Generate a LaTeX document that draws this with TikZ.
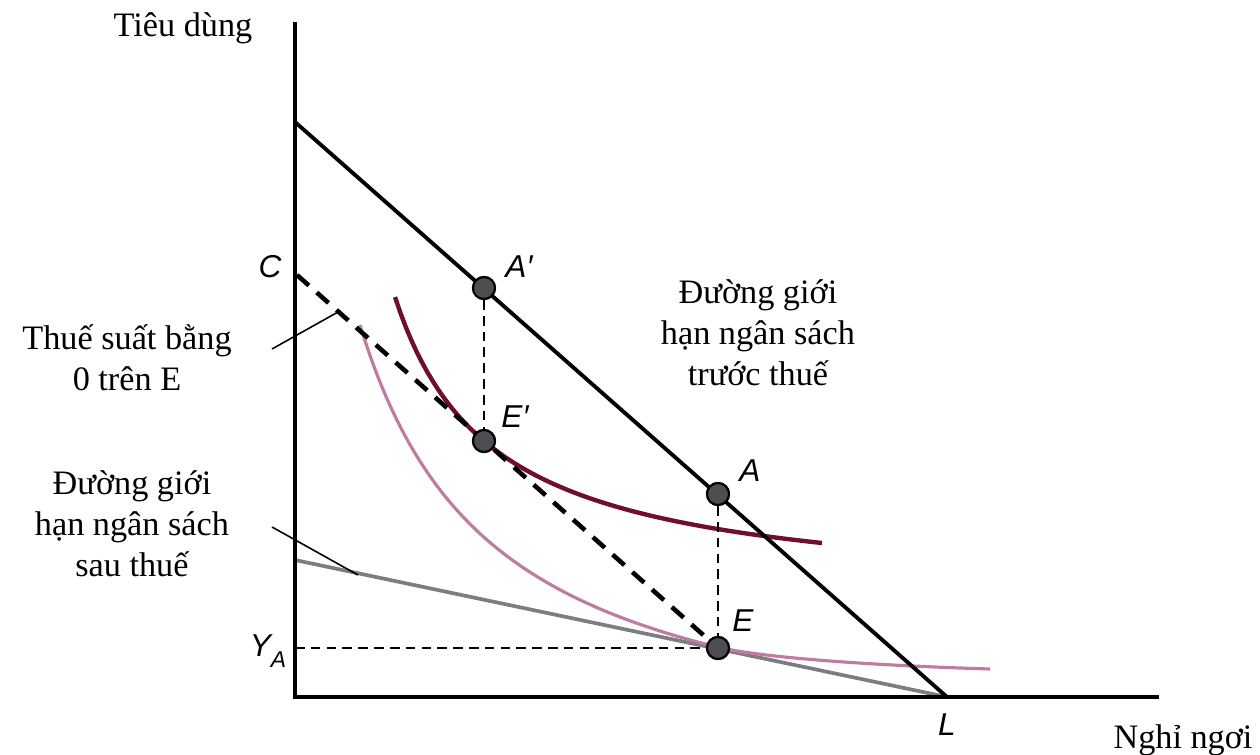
\documentclass[tikz,border=0pt]{standalone}
\usepackage{fontspec}
\setmainfont{Liberation Serif}
\newfontfamily\labfont{Liberation Sans}
\definecolor{maroonc}{RGB}{112,14,50}
\definecolor{pinkc}{RGB}{192,124,160}
\definecolor{grayc}{RGB}{125,125,128}
\definecolor{dotc}{RGB}{78,78,82}
\tikzset{
  txt/.style={font=\fontsize{19.5}{23.2}\selectfont, align=center, inner sep=0pt},
  lab/.style={font=\labfont\itshape\fontsize{18}{20}\selectfont, inner sep=0pt},
  axis/.style={line width=2pt, black},
  budget/.style={line width=2.2pt, black},
  cdash/.style={line width=2.6pt, black, dash pattern=on 9pt off 6pt},
  thindash/.style={line width=1.1pt, black, dash pattern=on 5.5pt off 3.5pt},
  aftertax/.style={line width=2.1pt, grayc},
  icurveA/.style={line width=2.5pt, maroonc},
  icurveB/.style={line width=1.8pt, pinkc},
  leader/.style={line width=0.9pt, black},
  dotpt/.style={circle, minimum size=0.44cm, inner sep=0pt, fill=dotc, draw=black, line width=1.2pt}
}
\begin{document}
\begin{tikzpicture}[x=0.02cm, y=-0.02cm]
\useasboundingbox (0,0) rectangle (1260,754);
% key points
\coordinate (O) at (295,697);
\coordinate (Ytop) at (295,22);
\coordinate (Xend) at (1159,697);
\coordinate (B0) at (295,122);
\coordinate (L) at (947,697);
\coordinate (C0) at (297,275);
\coordinate (G0) at (295,560);
\coordinate (YA) at (295,648);
\coordinate (T1) at (272,349);
\coordinate (T2) at (338,312);
\coordinate (S1) at (272,527);
\coordinate (S2) at (358,575);
\coordinate (Pend) at (990,669);
% after-tax line
\draw[aftertax] (G0) -- (L);
% indifference curves
\draw[icurveB] plot[domain=360:718, samples=80] (\x, {769.2-601.92/((\x-224.5)/100)})
  .. controls (760,657) and (860,665) .. (Pend);
\draw[icurveA] plot[domain=395:822, samples=80] (\x, {599.4-296.06/((\x-297.1)/100)});
% axes
\draw[axis] (Ytop) -- (O) -- (Xend);
% budget lines
\draw[budget] (B0) -- (L);
% points
\node[dotpt] (Ap) at (484,288) {};
\node[dotpt] (Ep) at (484,441) {};
\node[dotpt] (A) at (718,494) {};
\node[dotpt] (E) at (718,648) {};
\draw[cdash] (C0) -- (E.center);
\draw[thindash] (Ap) -- (Ep);
\draw[thindash] (A) -- (E);
\draw[thindash] (YA) -- (E);
% leaders
\draw[leader] (T1) -- (T2);
\draw[leader] (S1) -- (S2);
% redraw dots on top
\node[dotpt] at (Ap) {};
\node[dotpt] at (Ep) {};
\node[dotpt] at (A) {};
\node[dotpt] at (E) {};
% labels
\node[lab] (lC) at (270,267) {C};
\node[lab] (lAp) at (519,267) {A′};
\node[lab] (lEp) at (515,417) {E′};
\node[lab] (lA) at (750,471) {A};
\node[lab] (lE) at (743,621) {E};
\node[lab] (lYA) at (268,651) {Y\raisebox{-0.35em}{\fontsize{13}{14}\selectfont A}};
\node[lab] (lL) at (947,725) {L};
% texts
\node[txt, anchor=base] (ty) at (183,36) {Tiêu dùng};
\node[txt, anchor=base] (tx) at (1183,748) {Nghỉ ngơi};
\node[txt] (tzero) at (127,358) {Thuế suất bằng\\0 trên E};
\node[txt] (tafter) at (132,524) {Đường giới\\hạn ngân sách\\sau thuế};
\node[txt] (tbefore) at (758,333) {Đường giới\\hạn ngân sách\\trước thuế};
\end{tikzpicture}
\end{document}
